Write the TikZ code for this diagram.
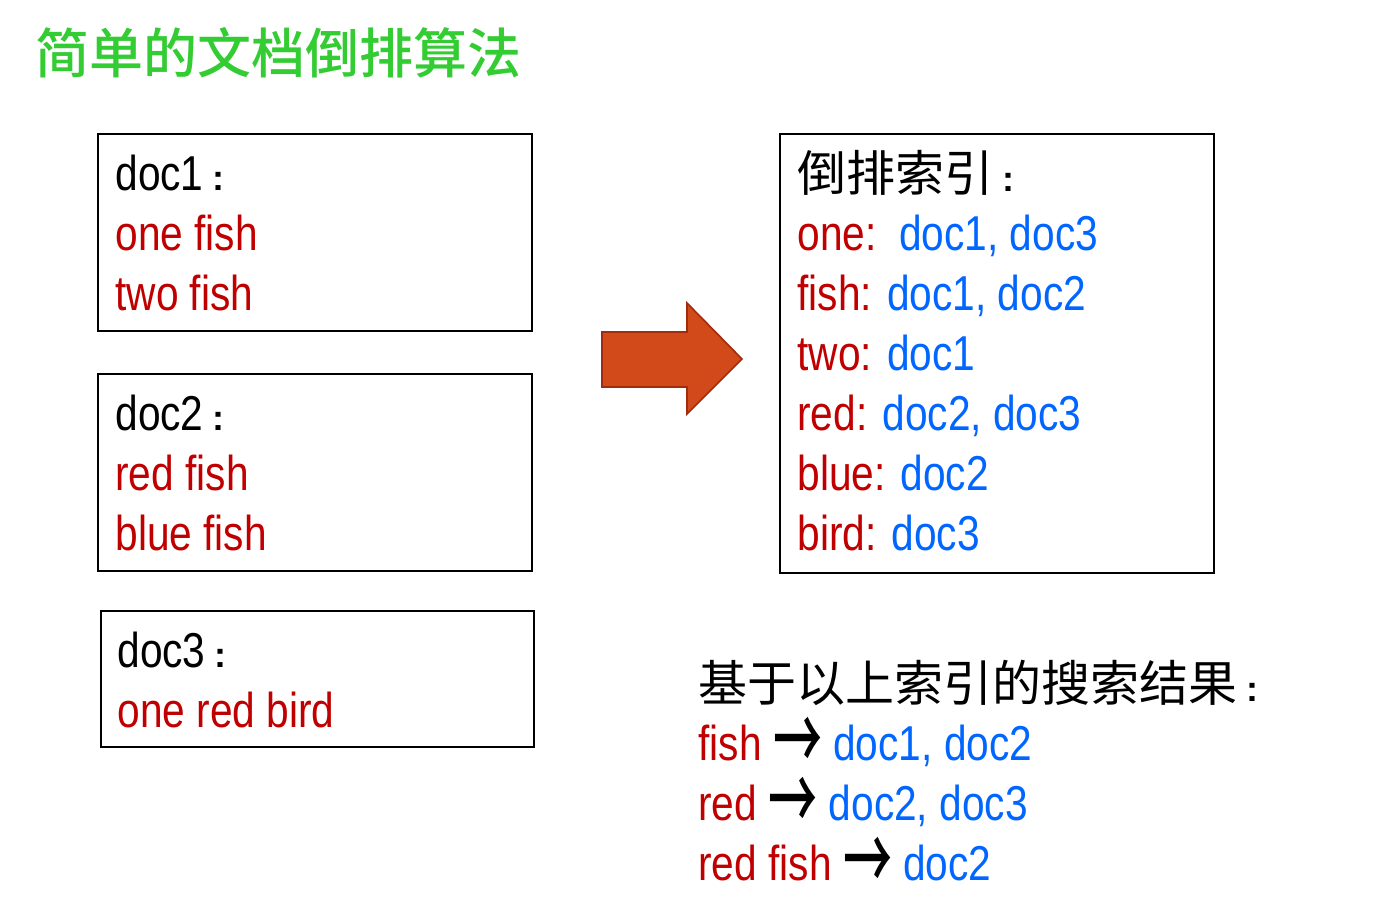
\documentclass[tikz,border=0pt]{standalone}
\usepackage{graphicx}
\usepackage{fontspec}
\setmainfont{Liberation Sans}[FakeStretch=0.83]
\newfontfamily\cjk{Noto Sans CJK SC}
\newfontfamily\cjkmed{Noto Sans CJK SC Medium}
\newfontfamily\colfont{Liberation Sans Bold}
\definecolor{txtred}{RGB}{192,0,0}
\definecolor{txtblue}{RGB}{0,102,255}
\definecolor{ttlgreen}{RGB}{51,204,51}
\definecolor{arrfill}{RGB}{210,74,26}
\definecolor{arrline}{RGB}{160,45,15}
\tikzset{
  docbox/.style={draw=black, line width=1pt, rectangle, inner sep=0pt},
  txt/.style={anchor=base west, inner sep=0pt, font=\fontsize{24.5pt}{29pt}\selectfont},
  ttl/.style={anchor=base west, inner sep=0pt, text=ttlgreen, font=\fontsize{27pt}{32pt}\selectfont\cjkmed},
}
% full-width colon: two small dots close together, low in the line
\newcommand{\cc}{\hspace{4.5pt}{\colfont\fontsize{18pt}{20pt}\selectfont :}}
\newcommand{\ar}{\raisebox{-5.6pt}{\cjkmed\scalebox{1}[1.8]{→}}}
\begin{document}
\begin{tikzpicture}[x=0.5pt,y=-0.5pt]
\useasboundingbox (0,0) rectangle (1380,923);
% title
\node[ttl] (title) at (35,73) {简单的文档倒排算法};
% boxes
\node[docbox, minimum width=217pt, minimum height=98.5pt] (b1) at (315,232.5) {};
\node[docbox, minimum width=217pt, minimum height=98.5pt] (b2) at (315,472.5) {};
\node[docbox, minimum width=216.5pt, minimum height=68pt] (b3) at (317.5,679) {};
\node[docbox, minimum width=217pt, minimum height=219.5pt] (b4) at (997,353.5) {};
% box 1
\node[txt] (d1) at (115,190) {doc1\cc};
\node[txt, text=txtred] (d1a) at (115,250) {one fish};
\node[txt, text=txtred] (d1b) at (115,310) {two fish};
% box 2
\node[txt] (d2) at (115,430) {doc2\cc};
\node[txt, text=txtred] (d2a) at (115,490) {red fish};
\node[txt, text=txtred] (d2b) at (115,550) {blue fish};
% box 3
\node[txt] (d3) at (117,667) {doc3\cc};
\node[txt, text=txtred] (d3a) at (117,727) {one red bird};
% big arrow
\draw[fill=arrfill, draw=arrline, line width=0.8pt, line join=miter]
  (602,332) -- (687,332) -- (687,303) -- (742,359) -- (687,414) -- (687,387) -- (602,387) -- cycle;
% index box
\node[txt] (ih) at (797,191) {{\cjk 倒排索引}\cc};
\node[txt] (i1) at (797,250) {\textcolor{txtred}{one:}\ \ \textcolor{txtblue}{doc1, doc3}};
\node[txt] (i2) at (797,310) {\textcolor{txtred}{fish:} \textcolor{txtblue}{doc1, doc2}};
\node[txt] (i3) at (797,370) {\textcolor{txtred}{two:} \textcolor{txtblue}{doc1}};
\node[txt] (i4) at (797,430) {\textcolor{txtred}{red:} \textcolor{txtblue}{doc2, doc3}};
\node[txt] (i5) at (797,490) {\textcolor{txtred}{blue:} \textcolor{txtblue}{doc2}};
\node[txt] (i6) at (797,550) {\textcolor{txtred}{bird:} \textcolor{txtblue}{doc3}};
% search results
\node[txt] (sh) at (698,701) {{\cjk 基于以上索引的搜索结果}\cc};
\node[txt] (s1) at (698,760) {\textcolor{txtred}{fish} \ar{} \textcolor{txtblue}{doc1, doc2}};
\node[txt] (s2) at (698,820) {\textcolor{txtred}{red} \ar{} \textcolor{txtblue}{doc2, doc3}};
\node[txt] (s3) at (698,880) {\textcolor{txtred}{red fish} \ar{} \textcolor{txtblue}{doc2}};
\end{tikzpicture}
\end{document}
